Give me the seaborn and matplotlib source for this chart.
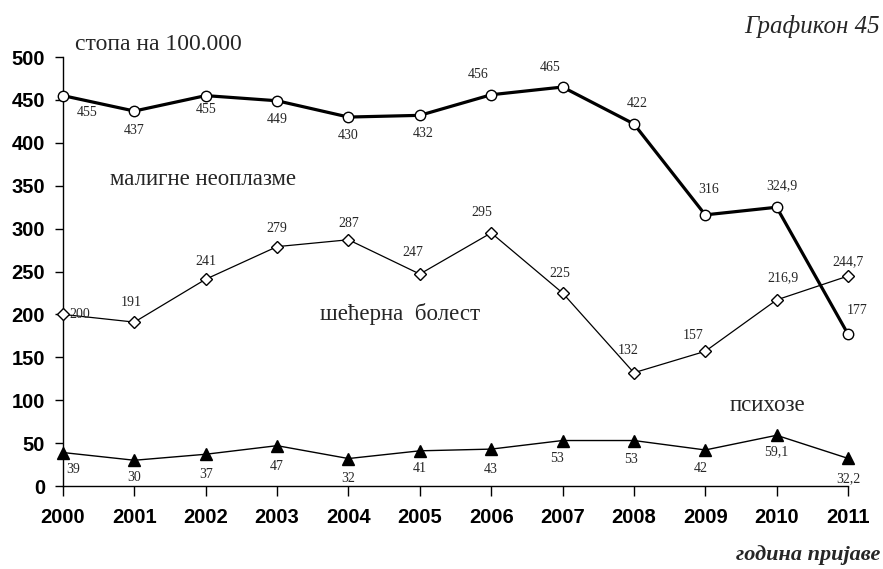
import numpy as np
import pandas as pd
import matplotlib
matplotlib.use("Agg")
import matplotlib.pyplot as plt
import seaborn as sns

# data
years = [2000, 2001, 2002, 2003, 2004, 2005, 2006, 2007, 2008, 2009, 2010, 2011]
maligne = [455, 437, 455, 449, 430, 432, 456, 465, 422, 316, 324.9, 177]
secerna = [200, 191, 241, 279, 287, 247, 295, 225, 132, 157, 216.9, 244.7]
psihoze = [39, 30, 37, 47, 32, 41, 43, 53, 53, 42, 59.1, 32.2]
y_ticks = [0, 50, 100, 150, 200, 250, 300, 350, 400, 450, 500]

# label offsets in pixels (dx, dy), dy positive = up
off_maligne = [(24, -17), (0, -19), (0, -14), (0, -19), (0, -18), (3, -18),
               (-13, 20), (-12, 20), (3, 20), (3, 25), (5, 22), (9, 24)]
off_secerna = [(17, 0), (-3, 20), (0, 18), (0, 18), (0, 16), (-7, 22),
               (-9, 20), (-3, 19), (-6, 22), (-12, 16), (6, 22), (0, 14)]
off_psihoze = [(10, -17), (0, -17), (0, -20), (0, -21), (0, -20), (0, -18),
               (0, -20), (-6, -18), (-3, -19), (-5, -19), (0, -16), (0, -20)]

sns.set_style("ticks")
plt.rcParams["font.family"] = ["Liberation Serif", "DejaVu Serif"]

W, H = 883, 569
fig = plt.figure(figsize=(W / 100, H / 100), dpi=100)
ax = fig.add_axes([63 / W, 83 / H, 785 / W, 429 / H])

sns.lineplot(x=years, y=secerna, ax=ax, color="black", lw=0.9, marker="D",
             markersize=6.5, markerfacecolor="white", markeredgecolor="black",
             markeredgewidth=1, clip_on=False, zorder=3)
sns.lineplot(x=years, y=psihoze, ax=ax, color="black", lw=1.0, marker="^",
             markersize=8.5, markerfacecolor="black", markeredgecolor="black",
             markeredgewidth=1, clip_on=False, zorder=3)
sns.lineplot(x=years, y=maligne, ax=ax, color="black", lw=2.3, marker="o",
             markersize=7.5, markerfacecolor="white", markeredgecolor="black",
             markeredgewidth=1, clip_on=False, zorder=4)


def fmt(v):
    return f"{v:g}".replace(".", ",")


for vals, offs in [(maligne, off_maligne), (secerna, off_secerna), (psihoze, off_psihoze)]:
    for x, v, (dx, dy) in zip(years, vals, offs):
        ax.annotate(fmt(v), (x, v), xytext=(dx, dy), textcoords="offset pixels",
                    ha="center", va="center", fontsize=10, zorder=5)

ax.set_xlim(2000, 2011)
ax.set_ylim(0, 500)
ax.set_xticks(years)
ax.set_yticks(y_ticks)
ax.set_xlabel("")
ax.set_ylabel("")
for lab in ax.get_xticklabels() + ax.get_yticklabels():
    lab.set_fontfamily("Liberation Sans")
    lab.set_fontweight("bold")
    lab.set_fontsize(14.5)
ax.tick_params(axis="y", direction="out", length=6, width=1, pad=7, colors="black")
ax.tick_params(axis="x", direction="out", length=7, width=1, pad=9, colors="black")
sns.despine(ax=ax)
for s in ["left", "bottom"]:
    ax.spines[s].set_color("black")
    ax.spines[s].set_linewidth(1)


def px(x, y):
    return x / W, 1 - y / H


fig.text(*px(75, 50), "стопа на 100.000", fontsize=17, va="baseline", ha="left")
fig.text(*px(110, 185), "малигне неоплазме", fontsize=16.5, va="baseline", ha="left")
fig.text(*px(320, 320), "шећерна  болест", fontsize=16.5, va="baseline", ha="left")
fig.text(*px(730, 411), "психозе", fontsize=16.5, va="baseline", ha="left")
fig.text(*px(880, 33), "Графикон 45", fontsize=18, style="italic", va="baseline", ha="right")
fig.text(*px(880, 560), "година пријаве", fontsize=16, style="italic", weight="bold",
         va="baseline", ha="right")

fig.savefig("out.png", dpi=100, facecolor="white")
